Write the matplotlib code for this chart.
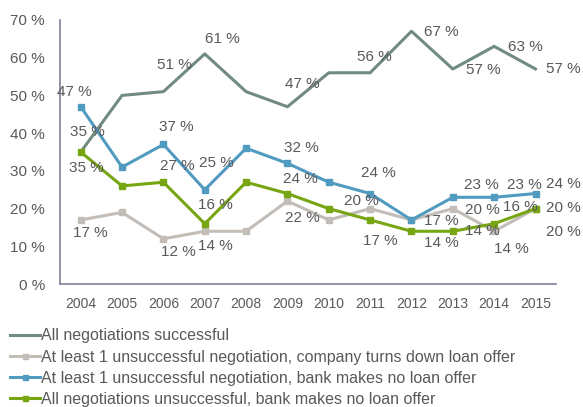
import matplotlib.pyplot as plt

plt.rcParams["font.family"] = "sans-serif"
plt.rcParams["font.sans-serif"] = ["Liberation Sans", "DejaVu Sans"]

years = ['2004', '2005', '2006', '2007', '2008', '2009', '2010', '2011',
         '2012', '2013', '2014', '2015']
successful = [35, 50, 51, 61, 51, 47, 56, 56, 67, 57, 63, 57]
company_declines = [17, 19, 12, 14, 14, 22, 17, 20, 17, 20, 14, 20]
bank_no_offer = [47, 31, 37, 25, 36, 32, 27, 24, 17, 23, 23, 24]
all_failed = [35, 26, 27, 16, 27, 24, 20, 17, 14, 14, 16, 20]

names = ['All negotiations successful',
         'At least 1 unsuccessful negotiation, company turns down loan offer',
         'At least 1 unsuccessful negotiation, bank makes no loan offer',
         'All negotiations unsuccessful, bank makes no loan offer']

# value labels: year index -> offset in pixels (dx, dy)
lab_successful = {0: (7, 20), 2: (11, 27), 3: (18, 15), 5: (15, 23), 7: (4, 16),
                  8: (30, -1), 9: (30, -1), 10: (31, -1), 11: (28, 0)}
lab_company = {0: (10, -13), 2: (15, -13), 3: (11, -15), 5: (15, -17), 7: (-9, 8),
               8: (30, -1), 9: (30, -1), 10: (17, -18), 11: (28, -23)}
lab_bank = {0: (-6, 15), 2: (13, 17), 3: (12, 27), 5: (14, 15), 7: (8, 21),
            9: (29, 12), 10: (30, 12), 11: (28, 10)}
lab_failed = {0: (6, -16), 2: (14, 16), 3: (11, 19), 5: (13, 15), 7: (10, -21),
              8: (30, -12), 9: (30, 0), 10: (26, 17), 11: (28, 1)}

txt = '#595959'
fig = plt.figure(figsize=(5.83, 4.07), dpi=100)
ax = fig.add_axes([0.103, 0.302, 0.851, 0.649])

x = range(len(years))
series = [
    (successful, '#718B7F', None, lab_successful),
    (company_declines, '#C3BDB8', 's', lab_company),
    (bank_no_offer, '#519AC0', 's', lab_bank),
    (all_failed, '#77A612', 's', lab_failed),
]
for (vals, col, mk, labs), name in zip(series, names):
    ax.plot(x, vals, color=col, lw=2.2, marker=mk, ms=4.5, label=name)
    for i, (dx, dy) in labs.items():
        ax.annotate('%d %%' % vals[i], (i, vals[i]), xytext=(dx, dy),
                    textcoords='offset pixels', ha='center', va='center',
                    fontsize=11, color=txt)

ax.set_xlim(-0.5, 11.5)
ax.set_ylim(0, 70)
ax.set_yticks(range(0, 71, 10))
ax.set_yticklabels(['%d %%' % v for v in range(0, 71, 10)])
ax.set_xticks(list(x))
ax.set_xticklabels(years)
ax.tick_params(axis='y', length=0, pad=11, labelsize=11, labelcolor=txt)
ax.tick_params(axis='x', length=0, pad=9, labelsize=10, labelcolor=txt)
for s in ['top', 'right']:
    ax.spines[s].set_visible(False)
for s in ['left', 'bottom']:
    ax.spines[s].set_color('#80829A')
    ax.spines[s].set_linewidth(1.2)

fig.legend(loc='upper left', bbox_to_anchor=(0.017, 0.193), frameon=False,
           fontsize=11.5, handlelength=1.9, handletextpad=0.05, labelspacing=0.38,
           labelcolor=txt, borderaxespad=0, borderpad=0, markerscale=0.8)

plt.savefig('out.png', dpi=100)
